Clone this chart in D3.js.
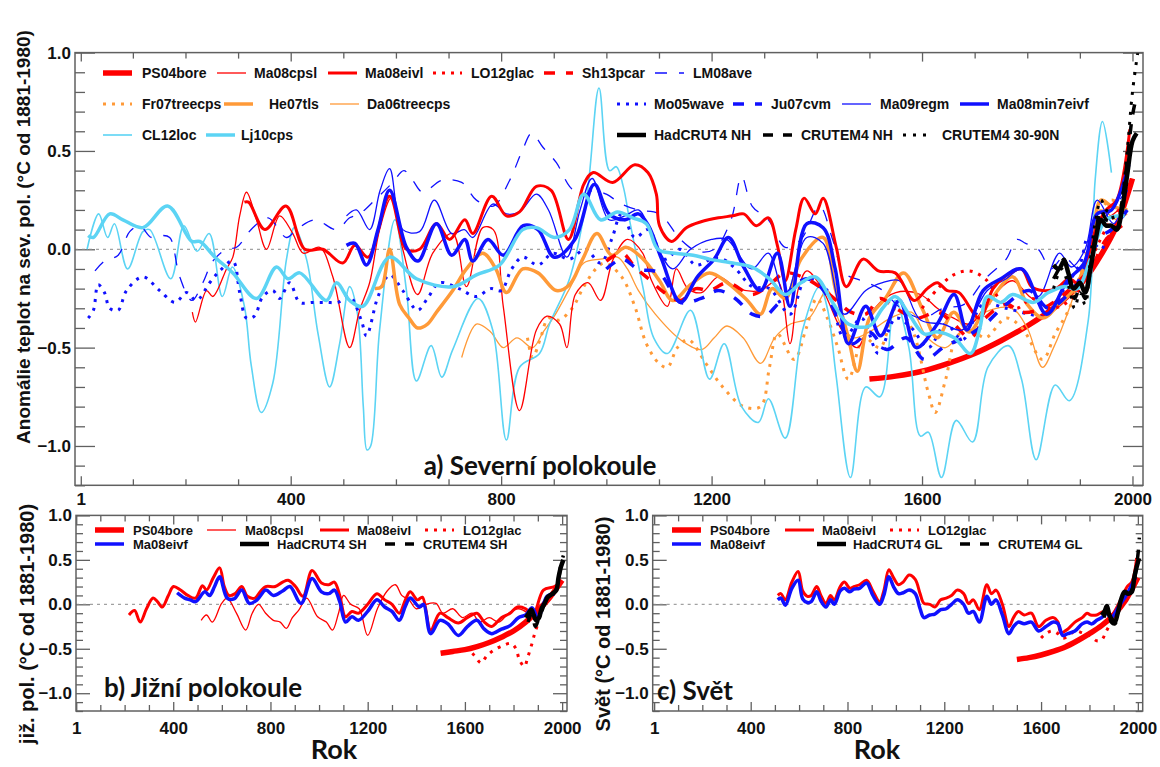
<!DOCTYPE html>
<html>
<head>
<meta charset="utf-8">
<script src="https://cdnjs.cloudflare.com/ajax/libs/d3/7.8.5/d3.min.js"></script>
<style>
  body { margin: 0; background: #fff; }
  svg { display: block; }
</style>
</head>
<body>
<div id="chart"></div>
<script>
// ---- a) Northern hemisphere reconstructions, [year, anomaly °C] ----
const nhPS04bore = [[1500,-0.66],[1550,-0.645],[1600,-0.62],[1650,-0.58],[1700,-0.53],[1750,-0.465],[1800,-0.39],[1850,-0.3],[1880,-0.23],[1910,-0.15],[1940,-0.03],[1970,0.12],[2000,0.36]];
const nhMa08cpsl = [[213,-0.32],[219,-0.37],[240,-0.21],[252,-0.24],[278,-0.10],[290,-0.04],[303,0.17],[316,0.29],[335,0.15],[354,0.0],[379,0.17],[404,0.08],[424,-0.02],[455,0.01],[480,-0.14],[512,-0.50],[531,-0.31],[550,-0.17],[569,0.1],[591,0.26],[613,0.0],[641,-0.23],[670,-0.02],[708,0.08],[734,-0.19],[765,0.11],[785,0.1],[804,-0.29],[835,-0.82],[867,-0.41],[887,-0.34],[911,-0.38],[925,-0.5],[941,-0.23],[965,-0.17],[989,-0.26],[1013,-0.05],[1040,0.05],[1069,-0.02],[1086,-0.16],[1116,-0.29],[1133,-0.10],[1155,-0.2],[1181,-0.22],[1213,-0.14],[1250,-0.2],[1293,-0.21],[1325,-0.16],[1349,-0.48],[1365,-0.2],[1381,-0.11],[1410,-0.2],[1445,-0.40],[1477,-0.50],[1510,-0.3],[1550,-0.22],[1597,-0.23],[1629,-0.30],[1660,-0.35],[1692,-0.38],[1730,-0.25],[1772,-0.16],[1804,-0.24],[1837,-0.29],[1870,-0.22],[1901,-0.16],[1933,0.1],[1964,0.18],[1985,0.22]];
const nhMa08eivl = [[312,0.24],[320,0.24],[351,0.10],[391,0.22],[427,0.0],[461,0.0],[499,-0.07],[522,0.02],[547,-0.04],[588,0.27],[620,0.0],[645,0.0],[677,0.13],[702,0.05],[731,0.15],[746,0.08],[782,0.27],[810,0.17],[835,0.19],[867,0.32],[895,0.3],[928,0.05],[957,0.33],[975,0.39],[1012,0.34],[1054,0.43],[1079,0.39],[1095,0.28],[1101,0.12],[1124,0.04],[1152,0.11],[1180,0.14],[1213,0.16],[1240,0.17],[1261,0.18],[1285,0.12],[1308,0.16],[1325,0.02],[1340,-0.16],[1360,0.1],[1376,0.26],[1397,0.18],[1412,0.26],[1437,0.01],[1456,-0.19],[1488,-0.05],[1517,-0.11],[1549,-0.12],[1585,-0.26],[1610,-0.2],[1629,-0.17],[1648,-0.21],[1670,-0.22],[1709,-0.35],[1735,-0.2],[1757,-0.14],[1789,-0.1],[1808,-0.19],[1829,-0.21],[1855,-0.2],[1880,-0.15],[1900,-0.18],[1930,0.1],[1950,0.2],[1970,0.25],[1995,0.61]];
const nhLO12glac = [[1600,-0.3],[1630,-0.2],[1660,-0.13],[1690,-0.11],[1720,-0.15],[1750,-0.26],[1780,-0.3],[1810,-0.25],[1840,-0.3],[1870,-0.28],[1900,-0.2],[1930,0.0],[1960,0.15],[1990,0.25]];
const nhSh13pcar = [[1000,-0.06],[1030,-0.02],[1054,-0.09],[1080,-0.15],[1110,-0.22],[1141,-0.26],[1170,-0.2],[1196,-0.21],[1230,-0.17],[1277,-0.23],[1310,-0.18],[1340,-0.12],[1380,-0.15],[1410,-0.2],[1437,-0.26],[1465,-0.32],[1493,-0.33],[1520,-0.25],[1550,-0.3],[1590,-0.35],[1630,-0.32],[1660,-0.38],[1692,-0.45],[1720,-0.35],[1760,-0.28],[1790,-0.32],[1830,-0.3],[1860,-0.25],[1890,-0.18],[1920,-0.1],[1950,0.05],[1980,0.12]];
const nhLM08ave = [[28,-0.11],[46,-0.06],[72,-0.03],[94,0.09],[113,0.12],[135,0.06],[154,0.07],[170,0.06],[189,-0.14],[212,-0.26],[233,-0.17],[252,-0.06],[278,0.0],[297,0.01],[328,0.11],[357,0.16],[392,0.06],[411,0.1],[446,0.15],[487,0.1],[512,0.16],[531,0.18],[560,0.25],[594,0.34],[615,0.4],[632,0.35],[651,0.29],[687,0.35],[725,0.34],[753,0.25],[785,0.22],[816,0.35],[840,0.5],[858,0.59],[879,0.52],[905,0.44],[930,0.32],[952,0.27],[975,0.3],[1000,0.28],[1029,0.23],[1060,0.2],[1101,0.18],[1141,0.05],[1173,-0.01],[1205,0.0],[1237,0.15],[1257,0.37],[1277,0.22],[1308,0.15],[1340,0.01],[1370,0.05],[1405,0.22],[1430,0.05],[1452,-0.12],[1485,-0.16],[1520,-0.2],[1560,-0.3],[1600,-0.35],[1640,-0.3],[1680,-0.28],[1720,-0.15],[1760,-0.05],[1780,0.05],[1797,0.03],[1821,0.0],[1845,-0.1],[1869,-0.04],[1900,-0.1],[1930,0.1],[1960,0.2],[1990,0.3]];
const nhFr07treecps = [[850,-0.45],[860,-0.55],[875,-0.45],[890,-0.35],[910,-0.36],[935,-0.3],[957,-0.19],[980,-0.1],[997,-0.07],[1029,-0.14],[1054,-0.29],[1076,-0.48],[1100,-0.58],[1116,-0.60],[1135,-0.5],[1156,-0.46],[1189,-0.58],[1221,-0.70],[1261,-0.80],[1293,-0.80],[1310,-0.6],[1325,-0.43],[1357,-0.56],[1380,-0.4],[1400,-0.25],[1420,-0.35],[1440,-0.5],[1460,-0.66],[1490,-0.45],[1520,-0.5],[1550,-0.3],[1580,-0.4],[1612,-0.73],[1625,-0.83],[1645,-0.66],[1665,-0.45],[1690,-0.4],[1720,-0.45],[1760,-0.35],[1790,-0.4],[1829,-0.56],[1853,-0.43],[1880,-0.3],[1916,0.01],[1940,0.2],[1960,0.25],[1990,0.2]];
const nhHe07tls = [[560,-0.2],[573,-0.19],[588,0.0],[607,-0.28],[625,-0.35],[641,-0.40],[660,-0.38],[677,-0.32],[708,-0.21],[734,-0.10],[765,-0.02],[790,-0.1],[810,-0.22],[841,-0.1],[870,-0.12],[905,-0.21],[930,-0.18],[955,-0.05],[982,0.08],[1010,-0.03],[1037,0.01],[1070,-0.05],[1101,-0.16],[1126,-0.26],[1160,-0.18],[1196,-0.12],[1230,-0.17],[1268,-0.26],[1293,-0.33],[1315,-0.2],[1340,-0.25],[1370,-0.05],[1412,0.06],[1435,-0.2],[1460,-0.45],[1477,-0.62],[1500,-0.35],[1530,-0.25],[1565,-0.12],[1600,-0.3],[1629,-0.45],[1660,-0.32],[1690,-0.42],[1720,-0.3],[1772,-0.14],[1800,-0.28],[1830,-0.35],[1860,-0.28],[1890,-0.2],[1920,0.0],[1940,0.25],[1960,0.22],[1990,0.2]];
const nhDa06treecps = [[725,-0.55],[753,-0.38],[780,-0.42],[804,-0.50],[830,-0.45],[860,-0.5],[880,-0.42],[901,-0.34],[930,-0.2],[957,-0.07],[989,-0.05],[1021,-0.04],[1040,-0.1],[1061,-0.21],[1093,-0.33],[1141,-0.46],[1181,-0.51],[1205,-0.45],[1229,-0.39],[1260,-0.45],[1293,-0.58],[1320,-0.45],[1350,-0.38],[1385,-0.35],[1420,-0.21],[1445,-0.38],[1470,-0.45],[1500,-0.42],[1540,-0.35],[1580,-0.32],[1610,-0.45],[1645,-0.50],[1680,-0.4],[1720,-0.32],[1770,-0.3],[1800,-0.4],[1829,-0.6],[1850,-0.5],[1880,-0.3],[1910,-0.05],[1940,0.2],[1970,0.15],[1990,0.18]];
const nhCL12loc = [[13,0.0],[35,0.18],[52,0.06],[65,0.13],[90,-0.10],[119,0.09],[132,0.1],[172,-0.15],[197,0.12],[222,-0.01],[245,0.08],[270,-0.24],[289,-0.09],[312,-0.29],[325,-0.59],[344,-0.83],[366,-0.68],[392,-0.05],[407,0.11],[430,-0.05],[452,-0.43],[474,-0.70],[493,-0.48],[512,-0.19],[527,-0.33],[538,-0.8],[545,-1.02],[552,-1.0],[569,-0.41],[598,0.15],[620,-0.21],[639,-0.67],[667,-0.49],[687,-0.65],[708,-0.51],[756,-0.25],[784,-0.41],[810,-0.97],[835,-0.6],[873,-0.53],[892,-0.38],[930,-0.15],[962,0.25],[986,0.82],[1006,0.40],[1019,0.42],[1032,0.32],[1044,0.15],[1070,-0.2],[1090,-0.45],[1116,-0.53],[1160,-0.31],[1196,-0.66],[1224,-0.48],[1257,-0.80],[1289,-0.88],[1308,-0.76],[1340,-0.96],[1373,-0.41],[1405,-0.19],[1420,-0.3],[1437,-0.65],[1464,-1.16],[1493,-0.70],[1520,-0.75],[1549,-0.26],[1575,-0.5],[1597,-0.95],[1612,-0.93],[1637,-1.16],[1665,-0.87],[1696,-0.98],[1725,-0.6],[1764,-0.49],[1789,-0.66],[1817,-1.07],[1853,-0.69],[1880,-0.77],[1916,-0.36],[1929,0.35],[1943,0.65],[1960,0.39]];
const nhLj10cps = [[15,0.07],[25,0.06],[56,0.18],[81,0.15],[119,0.11],[166,0.22],[212,0.04],[227,0.04],[256,-0.04],[290,-0.12],[335,-0.25],[373,-0.09],[395,-0.15],[417,-0.12],[468,-0.26],[487,-0.17],[512,-0.26],[537,-0.29],[588,-0.04],[639,-0.15],[708,-0.19],[753,-0.13],[797,-0.08],[841,0.1],[867,0.11],[901,0.06],[930,0.1],[957,0.28],[989,0.15],[1021,0.19],[1050,0.16],[1076,0.13],[1098,0.0],[1130,-0.02],[1165,-0.03],[1196,-0.05],[1240,-0.07],[1276,-0.09],[1310,-0.15],[1340,-0.23],[1370,-0.17],[1397,-0.14],[1430,-0.27],[1460,-0.38],[1500,-0.39],[1525,-0.3],[1549,-0.24],[1575,-0.33],[1604,-0.43],[1630,-0.42],[1661,-0.45],[1692,-0.53],[1710,-0.4],[1724,-0.24],[1750,-0.27],[1772,-0.23],[1812,-0.27],[1840,-0.22],[1869,-0.19],[1895,-0.2],[1920,-0.05],[1950,0.15],[1985,0.17]];
const nhMo05wave = [[15,-0.35],[25,-0.31],[34,-0.18],[46,-0.22],[56,-0.30],[72,-0.31],[88,-0.21],[119,-0.14],[151,-0.21],[180,-0.27],[202,-0.22],[221,-0.26],[246,-0.17],[265,-0.11],[290,-0.06],[303,-0.22],[316,-0.35],[331,-0.34],[347,-0.24],[366,-0.21],[379,-0.25],[398,-0.17],[417,-0.27],[442,-0.27],[468,-0.27],[490,-0.27],[512,-0.24],[534,-0.36],[544,-0.44],[566,-0.24],[588,-0.13],[613,-0.21],[641,-0.31],[660,-0.25],[683,-0.17],[720,-0.2],[753,-0.24],[780,-0.2],[800,-0.21],[820,-0.1],[841,-0.04],[870,-0.08],[898,-0.02],[930,-0.05],[960,0.0],[989,-0.07],[1010,0.05],[1029,0.18],[1054,0.06],[1080,0.1],[1110,-0.05],[1140,0.0],[1170,-0.08],[1200,-0.05],[1221,-0.05],[1246,-0.1],[1277,-0.19],[1310,-0.2],[1349,-0.33],[1380,-0.15],[1420,-0.21],[1452,-0.45],[1485,-0.35],[1517,-0.53],[1550,-0.35],[1580,-0.40],[1612,-0.50],[1645,-0.38],[1677,-0.46],[1716,-0.28],[1760,-0.3],[1804,-0.33],[1837,-0.34],[1870,-0.2],[1901,-0.07],[1916,0.06],[1940,0.0],[1960,0.1],[1980,0.12]];
const nhJu07cvm = [[1000,-0.1],[1030,-0.05],[1060,-0.1],[1100,-0.12],[1141,-0.27],[1180,-0.25],[1213,-0.21],[1245,-0.25],[1277,-0.33],[1301,-0.34],[1325,-0.28],[1349,-0.21],[1380,-0.15],[1410,-0.2],[1440,-0.35],[1468,-0.48],[1500,-0.42],[1533,-0.51],[1570,-0.45],[1604,-0.56],[1645,-0.49],[1680,-0.45],[1720,-0.38],[1760,-0.28],[1804,-0.21],[1840,-0.3],[1870,-0.25],[1900,-0.15],[1930,0.05],[1960,0.1],[1990,0.2]];
const nhMa09regm = [[506,0.17],[525,0.20],[550,0.1],[570,0.3],[588,0.41],[613,0.10],[645,0.09],[673,0.25],[706,0.08],[730,0.1],[746,0.06],[784,0.23],[810,0.18],[835,0.19],[867,0.28],[890,0.2],[925,-0.04],[950,0.2],[973,0.36],[1005,0.15],[1035,0.17],[1061,0.2],[1090,0.05],[1126,-0.10],[1160,0.0],[1200,0.05],[1229,0.05],[1276,-0.1],[1308,-0.02],[1340,-0.24],[1381,0.06],[1412,0.03],[1452,-0.33],[1493,-0.21],[1525,-0.17],[1557,-0.16],[1597,-0.36],[1640,-0.38],[1677,-0.41],[1724,-0.21],[1760,-0.15],[1789,-0.10],[1821,-0.24],[1861,-0.02],[1884,-0.09],[1910,0.0],[1933,0.25],[1964,0.13],[1990,0.3]];
const nhMa08min7eivf = [[506,0.02],[522,0.03],[544,-0.08],[566,0.1],[588,0.30],[620,0.01],[642,-0.06],[677,0.13],[706,-0.03],[731,0.05],[746,-0.06],[775,0.05],[804,-0.03],[842,0.12],[870,0.1],[901,-0.04],[940,0.05],[977,0.33],[1005,0.18],[1035,0.15],[1061,0.18],[1080,0.12],[1105,-0.05],[1141,-0.27],[1173,-0.14],[1205,-0.05],[1232,0.06],[1261,-0.09],[1293,-0.21],[1325,-0.02],[1349,-0.29],[1381,0.13],[1412,0.11],[1435,-0.1],[1460,-0.48],[1493,-0.29],[1521,-0.44],[1557,-0.26],[1589,-0.50],[1629,-0.38],[1661,-0.23],[1685,-0.41],[1716,-0.21],[1750,-0.15],[1789,-0.10],[1837,-0.33],[1876,-0.16],[1908,-0.07],[1933,0.18],[1960,0.2],[1993,0.43]];
const nhHadCRUT4 = [[1850,-0.08],[1860,-0.1],[1870,-0.06],[1878,-0.12],[1888,-0.2],[1900,-0.17],[1910,-0.22],[1920,-0.1],[1930,0.05],[1940,0.15],[1950,0.12],[1960,0.12],[1970,0.1],[1980,0.2],[1990,0.38],[2000,0.55],[2008,0.59]];
const nhCRUTEM4 = [[1850,-0.15],[1860,-0.1],[1870,-0.05],[1880,-0.15],[1890,-0.25],[1900,-0.2],[1910,-0.25],[1920,-0.1],[1930,0.08],[1940,0.2],[1950,0.15],[1960,0.14],[1970,0.1],[1980,0.24],[1990,0.45],[2000,0.68],[2008,0.78]];
const nhCRUTEM4n = [[1850,-0.2],[1865,-0.1],[1880,-0.2],[1890,-0.3],[1900,-0.22],[1910,-0.28],[1920,-0.05],[1930,0.15],[1940,0.25],[1950,0.2],[1960,0.18],[1970,0.1],[1980,0.25],[1990,0.5],[2000,0.8],[2010,1.0]];

// ---- b) Southern hemisphere ----
const shPS04bore = [[1500,-0.55],[1550,-0.53],[1600,-0.51],[1650,-0.475],[1700,-0.43],[1750,-0.37],[1800,-0.3],[1850,-0.2],[1900,-0.07],[1950,0.08],[2000,0.27]];
const shMa08cpsl = [[515,-0.18],[537,-0.12],[561,-0.2],[599,0.01],[622,0.07],[660,-0.1],[698,-0.29],[725,-0.1],[751,0.0],[780,-0.1],[812,-0.18],[840,-0.2],[865,-0.27],[890,-0.15],[918,-0.06],[949,0.07],[994,-0.14],[1030,-0.2],[1055,-0.29],[1080,-0.1],[1101,0.1],[1130,0.0],[1165,-0.05],[1200,-0.35],[1240,-0.05],[1280,0.15],[1314,0.22],[1340,0.1],[1370,0.05],[1400,-0.05],[1440,0.0],[1481,0.01],[1510,-0.1],[1550,-0.05],[1590,-0.15],[1630,-0.1],[1660,-0.2],[1700,-0.15],[1740,-0.2],[1780,-0.1],[1820,-0.05],[1860,-0.1]];
const shMa08eivl = [[218,-0.12],[241,-0.07],[264,-0.2],[290,-0.05],[317,0.07],[335,0.03],[355,-0.03],[380,0.1],[401,0.2],[430,0.16],[460,0.1],[492,0.07],[520,0.21],[537,0.16],[565,0.3],[591,0.41],[610,0.2],[629,0.1],[655,0.12],[682,0.2],[705,0.09],[736,0.07],[760,0.15],[780,0.2],[820,0.2],[850,0.25],[873,0.27],[903,0.2],[934,0.09],[971,0.38],[1010,0.24],[1040,0.22],[1063,0.25],[1085,0.1],[1109,-0.14],[1135,-0.08],[1162,-0.1],[1200,0.0],[1238,0.12],[1270,0.05],[1300,0.0],[1330,-0.1],[1355,0.05],[1375,0.14],[1405,0.05],[1425,0.08],[1459,-0.29],[1497,-0.1],[1530,-0.15],[1573,-0.21],[1610,-0.15],[1649,-0.1],[1680,-0.2],[1710,-0.25],[1750,-0.15],[1786,-0.1],[1816,-0.03],[1850,-0.05],[1880,-0.12],[1923,0.16],[1969,0.2],[1999,0.27]];
const shLO12glac = [[1600,-0.5],[1620,-0.52],[1640,-0.58],[1667,-0.66],[1690,-0.58],[1722,-0.51],[1760,-0.46],[1790,-0.44],[1810,-0.5],[1825,-0.63],[1845,-0.7],[1858,-0.6],[1875,-0.45],[1887,-0.33],[1900,-0.22]];
const shMa08eivf = [[416,0.13],[447,0.07],[470,0.05],[492,0.03],[530,0.14],[550,0.1],[570,0.2],[591,0.31],[622,0.07],[650,0.06],[682,0.16],[713,0.01],[745,0.05],[781,0.16],[812,0.1],[850,0.15],[880,0.2],[926,0.01],[971,0.29],[1010,0.14],[1040,0.12],[1063,0.16],[1085,0.03],[1109,-0.2],[1135,-0.14],[1162,-0.18],[1200,-0.08],[1238,0.05],[1270,-0.03],[1300,-0.08],[1330,-0.18],[1355,-0.02],[1375,0.07],[1413,-0.03],[1430,0.0],[1459,-0.33],[1497,-0.18],[1530,-0.22],[1573,-0.35],[1610,-0.25],[1649,-0.18],[1680,-0.28],[1710,-0.33],[1750,-0.28],[1786,-0.24],[1820,-0.15],[1850,-0.12],[1877,-0.04],[1900,-0.15],[1938,0.09],[1969,0.12]];
const shHadCRUT4 = [[1850,-0.15],[1858,-0.12],[1873,-0.06],[1883,-0.12],[1893,-0.18],[1905,-0.15],[1915,-0.05],[1928,0.01],[1940,0.08],[1950,0.1],[1960,0.12],[1976,0.16],[1985,0.3],[1995,0.42],[2005,0.5]];
const shCRUTEM4 = [[1860,-0.2],[1875,-0.1],[1890,-0.25],[1905,-0.15],[1920,-0.05],[1935,0.05],[1950,0.1],[1965,0.12],[1980,0.2],[1995,0.45],[2005,0.55]];

// ---- c) Global ----
const glPS04bore = [[1500,-0.62],[1550,-0.6],[1600,-0.57],[1650,-0.53],[1700,-0.48],[1750,-0.41],[1800,-0.33],[1850,-0.24],[1900,-0.12],[1950,0.05],[2000,0.3]];
const glMa08eivl = [[512,0.1],[525,0.12],[543,0.05],[570,0.25],[596,0.37],[615,0.15],[634,0.09],[650,0.1],[673,0.2],[690,0.1],[711,0.01],[730,0.1],[745,0.05],[770,0.2],[787,0.25],[810,0.18],[826,0.2],[850,0.22],[879,0.27],[905,0.15],[933,0.03],[950,0.15],[971,0.39],[990,0.3],[1011,0.22],[1030,0.25],[1055,0.33],[1080,0.28],[1100,0.12],[1116,0.01],[1140,0.0],[1161,-0.03],[1185,0.05],[1208,0.07],[1230,0.1],[1254,0.16],[1280,0.12],[1300,0.01],[1320,0.05],[1345,-0.06],[1376,0.22],[1395,0.12],[1414,0.16],[1440,0.0],[1467,-0.25],[1486,-0.15],[1506,-0.08],[1530,-0.12],[1560,-0.1],[1590,-0.25],[1620,-0.18],[1651,-0.15],[1670,-0.2],[1682,-0.32],[1710,-0.28],[1740,-0.2],[1770,-0.15],[1790,-0.1],[1804,-0.12],[1830,-0.12],[1860,-0.08],[1890,-0.12],[1920,0.0],[1956,0.2],[1975,0.25],[1995,0.52]];
const glLO12glac = [[1600,-0.38],[1620,-0.33],[1645,-0.3],[1670,-0.33],[1690,-0.38],[1715,-0.35],[1740,-0.3],[1770,-0.32],[1800,-0.35],[1830,-0.41],[1850,-0.4],[1870,-0.3],[1890,-0.2]];
const glMa08eivf = [[512,0.05],[525,0.07],[543,-0.01],[570,0.18],[596,0.27],[615,0.06],[634,0.02],[650,0.03],[673,0.14],[690,0.04],[711,-0.03],[730,0.05],[745,0.0],[770,0.15],[787,0.18],[810,0.14],[826,0.17],[850,0.18],[879,0.24],[905,0.1],[933,0.0],[950,0.1],[971,0.31],[990,0.2],[1011,0.12],[1030,0.13],[1055,0.16],[1080,0.12],[1100,-0.05],[1116,-0.15],[1140,-0.12],[1161,-0.11],[1185,-0.06],[1208,-0.05],[1230,0.0],[1254,0.05],[1280,0.0],[1300,-0.1],[1320,-0.08],[1345,-0.2],[1376,0.09],[1395,0.0],[1414,0.05],[1440,-0.12],[1467,-0.33],[1486,-0.25],[1506,-0.2],[1530,-0.22],[1560,-0.2],[1590,-0.3],[1620,-0.25],[1651,-0.2],[1670,-0.22],[1690,-0.35],[1710,-0.33],[1740,-0.3],[1770,-0.22],[1790,-0.2],[1810,-0.22],[1830,-0.18],[1850,-0.15],[1870,-0.1],[1890,-0.15],[1920,-0.03],[1956,0.12],[1990,0.3]];
const glHadCRUT4 = [[1850,-0.12],[1862,-0.08],[1872,-0.02],[1882,-0.12],[1895,-0.18],[1905,-0.2],[1915,-0.12],[1930,0.05],[1945,0.14],[1960,0.12],[1975,0.14],[1985,0.3],[1995,0.42],[2005,0.52]];
const glCRUTEM4 = [[1860,-0.15],[1875,-0.05],[1890,-0.2],[1905,-0.22],[1920,-0.08],[1935,0.08],[1950,0.12],[1965,0.12],[1980,0.2],[1995,0.45],[2002,0.6],[2006,0.75]];

// tick labels
const xTickYears = [1, 400, 800, 1200, 1600, 2000];
const yTickVals = [-1.0, -0.5, 0.0, 0.5, 1.0];

// line styles
const RED = "#ff0000", BLUE = "#1010ff", CYAN = "#5cd4f4", ORANGE = "#ff9a38", BLACK = "#000000";
const styles = {
  PS04bore:     { color: RED,    width: 5.5 },
  Ma08cpsl:     { color: RED,    width: 1.3 },
  Ma08eivl:     { color: RED,    width: 3 },
  LO12glac:     { color: RED,    width: 3,   dash: "3,6" },
  Sh13pcar:     { color: RED,    width: 3.5, dash: "11,11" },
  LM08ave:      { color: BLUE,   width: 1.3, dash: "12,12" },
  Fr07treecps:  { color: ORANGE, width: 3,   dash: "3,6" },
  He07tls:      { color: ORANGE, width: 3.5 },
  Da06treecps:  { color: ORANGE, width: 1.3 },
  CL12loc:      { color: CYAN,   width: 1.6 },
  Lj10cps:      { color: CYAN,   width: 3.5 },
  Mo05wave:     { color: BLUE,   width: 3,   dash: "3,6" },
  Ju07cvm:      { color: BLUE,   width: 3.5, dash: "11,11" },
  Ma09regm:     { color: BLUE,   width: 1.3 },
  Ma08min7eivf: { color: BLUE,   width: 3.5 },
  Ma08eivf:     { color: BLUE,   width: 3.5 },
  Had:          { color: BLACK,  width: 4.5 },
  Cru:          { color: BLACK,  width: 3.5, dash: "10,10" },
  CruDot:       { color: BLACK,  width: 3,   dash: "3,7" }
};

const panels = [
  {
    box: { l: 75, r: 1143, t: 52.6, b: 485.3 }, xDom: [-10, 2020],
    series: [
      ["PS04bore", nhPS04bore], ["Da06treecps", nhDa06treecps], ["Fr07treecps", nhFr07treecps],
      ["CL12loc", nhCL12loc], ["Ma08cpsl", nhMa08cpsl], ["LM08ave", nhLM08ave], ["Mo05wave", nhMo05wave],
      ["He07tls", nhHe07tls], ["LO12glac", nhLO12glac], ["Sh13pcar", nhSh13pcar], ["Ju07cvm", nhJu07cvm],
      ["Ma09regm", nhMa09regm], ["Ma08eivl", nhMa08eivl], ["Ma08min7eivf", nhMa08min7eivf],
      ["Lj10cps", nhLj10cps], ["Cru", nhCRUTEM4], ["CruDot", nhCRUTEM4n], ["Had", nhHadCRUT4]
    ],
    legend: [
      ["PS04bore", "PS04bore", 103, 142, 73], ["Ma08cpsl", "Ma08cpsl", 217, 254, 73],
      ["Ma08eivl", "Ma08eivl", 328, 365, 73], ["LO12glac", "LO12glac", 433, 471, 73],
      ["Sh13pcar", "Sh13pcar", 544, 582, 73], ["LM08ave", "LM08ave", 655, 693, 73],
      ["Fr07treecps", "Fr07treecps", 103, 142, 104], ["He07tls", "He07tls", 224, 269, 104],
      ["Da06treecps", "Da06treecps", 330, 367, 104], ["Mo05wave", "Mo05wave", 617, 654, 104],
      ["Ju07cvm", "Ju07cvm", 733, 771, 104], ["Ma09regm", "Ma09regm", 842, 880, 104],
      ["Ma08min7eivf", "Ma08min7eivf", 960, 997, 104],
      ["CL12loc", "CL12loc", 103, 142, 135], ["Lj10cps", "Lj10cps", 206, 241, 135],
      ["Had", "HadCRUT4 NH", 617, 654, 135], ["Cru", "CRUTEM4 NH", 763, 801, 135],
      ["CruDot", "CRUTEM4 30-90N", 903, 942, 135]
    ],
    legendSize: 14,
    ylabel: "Anomálie teplot na sev. pol. (°C od 1881-1980)", ylabelX: 23, ylabelY: 237, ylabelSize: 19,
    title: "a) Severní polokoule", titleX: 540, titleY: 466, xLabY: 499, rok: null
  },
  {
    box: { l: 76, r: 567, t: 515.4, b: 711 }, xDom: [0, 2020],
    series: [
      ["Ma08cpsl", shMa08cpsl], ["PS04bore", shPS04bore], ["LO12glac", shLO12glac],
      ["Ma08eivl", shMa08eivl], ["Ma08eivf", shMa08eivf], ["Cru", shCRUTEM4], ["Had", shHadCRUT4]
    ],
    legend: [
      ["PS04bore", "PS04bore", 95, 133, 530], ["Ma08cpsl", "Ma08cpsl", 207, 245, 530],
      ["Ma08eivl", "Ma08eivl", 320, 357, 530], ["LO12glac", "LO12glac", 425, 463, 530],
      ["Ma08eivf", "Ma08eivf", 95, 133, 544], ["Had", "HadCRUT4 SH", 240, 277, 544],
      ["Cru", "CRUTEM4 SH", 385, 423, 544]
    ],
    legendSize: 13,
    ylabel: "již. pol. (°C od 1881-1980)", ylabelX: 27, ylabelY: 624, ylabelSize: 20,
    title: "b) Jižní polokoule", titleX: 203, titleY: 688, xLabY: 728, rok: 334
  },
  {
    box: { l: 652.7, r: 1142.7, t: 515.4, b: 711 }, xDom: [-5, 2020],
    series: [
      ["PS04bore", glPS04bore], ["LO12glac", glLO12glac], ["Ma08eivl", glMa08eivl],
      ["Ma08eivf", glMa08eivf], ["Cru", glCRUTEM4], ["Had", glHadCRUT4]
    ],
    legend: [
      ["PS04bore", "PS04bore", 672, 710, 530], ["Ma08eivl", "Ma08eivl", 785, 822, 530],
      ["LO12glac", "LO12glac", 890, 928, 530],
      ["Ma08eivf", "Ma08eivf", 672, 710, 544], ["Had", "HadCRUT4 GL", 817, 853, 544],
      ["Cru", "CRUTEM4 GL", 960, 998, 544]
    ],
    legendSize: 13,
    ylabel: "Svět (°C od 1881-1980)", ylabelX: 603, ylabelY: 624, ylabelSize: 20,
    title: "c) Svět", titleX: 695, titleY: 691, xLabY: 728, rok: 877
  }
];

const svg = d3.select("#chart").append("svg")
  .attr("width", 1160).attr("height", 767)
  .style("font-family", "'Liberation Sans', Arial, sans-serif");

const FRAME = "#606060";

panels.forEach((p, i) => {
  const bx = p.box;
  const x = d3.scaleLinear().domain(p.xDom).range([bx.l, bx.r]);
  const y = d3.scaleLinear().domain([-1.2, 1.0]).range([bx.b, bx.t]);
  const g = svg.append("g");

  const clipId = "clip" + i;
  svg.append("clipPath").attr("id", clipId)
    .append("rect").attr("x", bx.l).attr("y", bx.t)
    .attr("width", bx.r - bx.l).attr("height", bx.b - bx.t);

  // minor and major ticks, pointing inwards on all four sides
  const minorX = d3.range(100, 2001, 100).filter(v => v % 400 !== 0);
  const minorY = d3.range(-12, 11, 1).map(v => v / 10).filter(v => Math.abs(v * 2 - Math.round(v * 2)) > 1e-6);
  const tickStyle = sel => { sel.select(".domain").remove(); sel.selectAll("line").attr("stroke", FRAME).attr("stroke-width", 1.3); sel.selectAll("text").remove(); };

  g.append("g").attr("transform", `translate(0,${bx.b})`).call(d3.axisTop(x).tickValues(xTickYears).tickSize(9)).call(tickStyle);
  g.append("g").attr("transform", `translate(0,${bx.b})`).call(d3.axisTop(x).tickValues(minorX).tickSize(6)).call(tickStyle);
  g.append("g").attr("transform", `translate(0,${bx.t})`).call(d3.axisBottom(x).tickValues(xTickYears).tickSize(9)).call(tickStyle);
  g.append("g").attr("transform", `translate(0,${bx.t})`).call(d3.axisBottom(x).tickValues(minorX).tickSize(6)).call(tickStyle);
  const majLen = i === 0 ? 20 : 14, minLen = i === 0 ? 10 : 7;
  g.append("g").attr("transform", `translate(${bx.l},0)`).call(d3.axisRight(y).tickValues(yTickVals).tickSize(majLen)).call(tickStyle);
  g.append("g").attr("transform", `translate(${bx.l},0)`).call(d3.axisRight(y).tickValues(minorY).tickSize(minLen)).call(tickStyle);
  g.append("g").attr("transform", `translate(${bx.r},0)`).call(d3.axisLeft(y).tickValues(yTickVals).tickSize(majLen)).call(tickStyle);
  g.append("g").attr("transform", `translate(${bx.r},0)`).call(d3.axisLeft(y).tickValues(minorY).tickSize(minLen)).call(tickStyle);

  // zero line
  g.append("line").attr("x1", bx.l).attr("x2", bx.r).attr("y1", y(0)).attr("y2", y(0))
    .attr("stroke", "#8a8a8a").attr("stroke-width", 1).attr("stroke-dasharray", "3,4");

  // series
  const line = d3.line().x(d => x(d[0])).y(d => y(d[1])).curve(d3.curveCatmullRom.alpha(0.5));
  const lg = g.append("g").attr("clip-path", `url(#${clipId})`);
  p.series.forEach(([key, data]) => {
    const s = styles[key];
    lg.append("path").datum(data).attr("d", line)
      .attr("fill", "none").attr("stroke", s.color).attr("stroke-width", s.width)
      .attr("stroke-linejoin", "round")
      .attr("stroke-dasharray", s.dash || null);
  });

  // frame
  g.append("rect").attr("x", bx.l).attr("y", bx.t).attr("width", bx.r - bx.l).attr("height", bx.b - bx.t)
    .attr("fill", "none").attr("stroke", FRAME).attr("stroke-width", 1.5);

  // tick labels
  g.append("g").attr("transform", `translate(0,${p.xLabY})`)
    .call(d3.axisBottom(x).tickValues(xTickYears).tickFormat(d3.format("d")).tickSize(0).tickPadding(0))
    .call(a => a.select(".domain").remove())
    .selectAll("text").attr("dy", "0.35em").attr("y", 0)
    .style("font-size", "17px").style("font-weight", "bold").attr("fill", "#111")
    .style("font-family", "'Liberation Sans', Arial, sans-serif");
  g.append("g").attr("transform", `translate(${bx.l - 4},0)`)
    .call(d3.axisLeft(y).tickValues(yTickVals).tickFormat(d3.format(".1f")).tickSize(0).tickPadding(0))
    .call(a => a.select(".domain").remove())
    .selectAll("text").style("font-size", "17px").style("font-weight", "bold").attr("fill", "#111")
    .style("font-family", "'Liberation Sans', Arial, sans-serif");

  // legend
  const leg = g.append("g");
  p.legend.forEach(([key, label, lx, tx, ly]) => {
    const s = styles[key];
    leg.append("line").attr("x1", lx).attr("x2", lx + 29).attr("y1", ly).attr("y2", ly)
      .attr("stroke", s.color).attr("stroke-width", s.width).attr("stroke-dasharray", s.dash || null);
    leg.append("text").attr("x", tx).attr("y", ly).attr("dy", "0.36em")
      .style("font-size", p.legendSize + "px").style("font-weight", "bold").attr("fill", "#111").text(label);
  });

  // y label
  g.append("text")
    .attr("transform", `translate(${p.ylabelX},${p.ylabelY}) rotate(-90)`)
    .attr("text-anchor", "middle").attr("dy", "0.36em")
    .style("font-size", p.ylabelSize + "px").style("font-weight", "bold").attr("fill", "#111")
    .text(p.ylabel);

  // panel title
  g.append("text").attr("x", p.titleX).attr("y", p.titleY).attr("dy", "0.36em")
    .attr("text-anchor", "middle")
    .style("font-family", "Lato, 'Open Sans', sans-serif").style("font-size", "26px").style("font-weight", "bold")
    .attr("fill", "#111").text(p.title);

  if (p.rok) {
    g.append("text").attr("x", p.rok).attr("y", 749).attr("dy", "0.36em").attr("text-anchor", "middle")
      .style("font-family", "Lato, 'Open Sans', sans-serif").style("font-size", "27px").style("font-weight", "bold")
      .attr("fill", "#111").text("Rok");
  }
});
</script>
</body>
</html>
